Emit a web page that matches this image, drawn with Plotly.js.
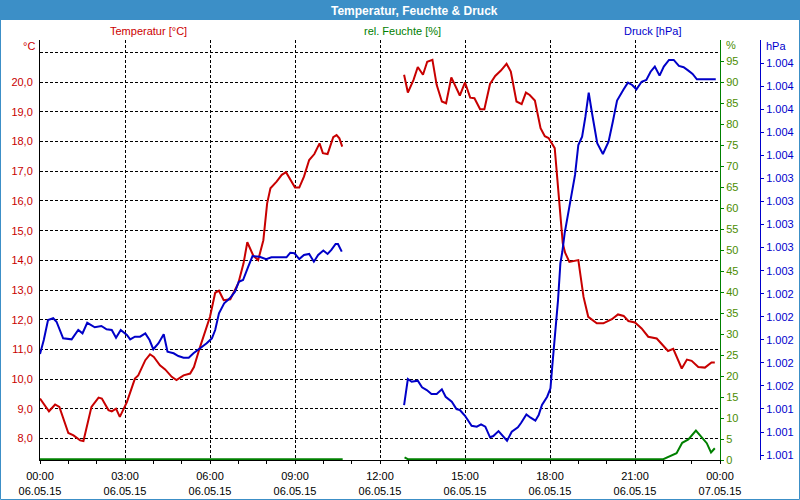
<!DOCTYPE html>
<html>
<head>
<meta charset="utf-8">
<script src="https://cdn.plot.ly/plotly-3.0.1.min.js"></script>
<style>html,body{margin:0;padding:0;background:#fff;}#chart{width:800px;height:500px;}</style>
</head>
<body>
<div id="chart"></div>
<script>
// ---- data ----
const day1 = '2015-05-06 ';
const day2 = '2015-05-07 ';

const tempTimes = ['00:00','00:19','00:32','00:41','01:00','01:11','01:25','01:32','01:49','02:04','02:11','02:25','02:32','02:41','02:49','03:04','03:21','03:28','03:43','03:53','04:01','04:14','04:25','04:39','04:49','05:04','05:18','05:26','05:39','06:00','06:11','06:19','06:29','06:43','07:00','07:11','07:19','07:32','07:42','07:53','08:01','08:08','08:21','08:32','08:41','08:49','09:00','09:09','09:19','09:30','09:41','09:52','09:59','10:09','10:21','10:28','10:34','10:40',
  '11:45',
  '12:51','12:59','13:11','13:20','13:31','13:40','13:51','14:00','14:11','14:20','14:31','14:40','14:49','15:00','15:11','15:20','15:32','15:41','15:53','16:04','16:16','16:28','16:37','16:49','17:00','17:09','17:17','17:28','17:40','17:49','17:57','18:10','18:15','18:21','18:27','18:32','18:41','19:00','19:11','19:21','19:39','19:53','20:11','20:24','20:36','20:46','21:00','21:14','21:28','21:46','21:56','22:10','22:21','22:30','22:39','22:50','23:00','23:14','23:28','23:42','23:49'];
const tempValues = [9.35,8.92,9.15,9.07,8.19,8.11,7.94,7.92,9.07,9.38,9.35,8.96,8.92,9.01,8.73,9.23,10.02,10.13,10.64,10.84,10.75,10.47,10.33,10.08,9.97,10.13,10.19,10.41,11.09,12.10,12.91,12.98,12.66,12.69,13.23,13.90,14.61,14.15,14.01,14.68,15.92,16.43,16.65,16.88,16.97,16.76,16.45,16.45,16.82,17.38,17.58,17.94,17.61,17.58,18.15,18.22,18.11,17.83,
  null,
  20.25,19.65,20.08,20.51,20.25,20.69,20.75,19.91,19.35,19.29,20.16,19.85,19.55,19.99,19.48,19.46,19.09,19.09,19.94,20.21,20.39,20.62,20.36,19.35,19.26,19.65,19.57,19.38,18.45,18.18,18.12,17.78,16.82,15.47,14.58,14.26,13.95,14.01,12.77,12.10,11.88,11.88,12.02,12.18,12.13,11.96,11.91,11.71,11.43,11.37,11.20,10.95,11.02,10.70,10.36,10.66,10.62,10.41,10.39,10.56,10.56];

const humTimes = ['00:00','05:00','10:41','11:45','12:52','12:59','22:00','22:11','22:28','22:40','22:53','23:09','23:17','23:32','23:41','23:49'];
const humValues = [0.2,0.2,0.2,null,0.6,0.2,0.2,0.8,1.6,4.1,4.9,7.0,6.0,4.0,1.8,2.8];

const presTimes = ['00:00','00:08','00:17','00:28','00:35','00:49','01:07','01:21','01:30','01:40','01:56','02:10','02:21','02:32','02:41','02:51','03:04','03:11','03:21','03:32','03:43','03:52','04:00','04:11','04:22','04:30','04:43','04:53','05:04','05:15','05:25','05:39','05:53','06:04','06:11','06:19','06:30','06:42','06:53','07:01','07:10','07:21','07:30','07:45','07:59','08:10','08:42','08:50','08:59','09:09','09:19','09:30','09:40','09:49','10:00','10:09','10:17','10:26','10:31','10:39',
  '11:45',
  '12:51','12:59','13:07','13:20','13:29','13:39','13:49','14:00','14:11','14:19','14:32','14:42','14:49','15:00','15:14','15:25','15:34','15:43','15:53','16:00','16:11','16:29','16:39','16:52','16:59','17:10','17:19','17:29','17:36','17:43','17:54','18:01','18:05','18:10','18:17','18:22','18:26','18:31','18:43','18:53','19:00','19:08','19:15','19:22','19:29','19:40','19:52','20:04','20:13','20:22','20:36','20:45','20:54','21:03','21:14','21:24','21:33','21:42','21:52','22:01','22:12','22:22','22:33','22:43','22:53','23:02','23:11','23:51'];
const presValues = [1001.877,1001.998,1002.172,1002.187,1002.157,1002.013,1002.004,1002.085,1002.056,1002.148,1002.109,1002.120,1002.091,1002.085,1002.018,1002.085,1002.042,1002.004,1002.027,1002.027,1002.056,1001.998,1001.918,1001.970,1002.048,1001.897,1001.883,1001.859,1001.845,1001.845,1001.883,1001.926,1001.970,1002.013,1002.085,1002.230,1002.317,1002.360,1002.418,1002.504,1002.519,1002.635,1002.727,1002.721,1002.699,1002.716,1002.716,1002.756,1002.751,1002.701,1002.736,1002.745,1002.678,1002.736,1002.775,1002.745,1002.780,1002.832,1002.832,1002.765,
  null,
  1001.434,1001.660,1001.636,1001.645,1001.588,1001.564,1001.530,1001.530,1001.570,1001.506,1001.463,1001.399,1001.391,1001.341,1001.254,1001.246,1001.266,1001.246,1001.154,1001.165,1001.208,1001.124,1001.202,1001.240,1001.280,1001.353,1001.324,1001.298,1001.347,1001.434,1001.506,1001.579,1001.781,1001.998,1002.345,1002.664,1002.762,1002.924,1003.185,1003.431,1003.691,1003.763,1003.937,1004.145,1003.966,1003.706,1003.613,1003.720,1003.893,1004.076,1004.174,1004.232,1004.212,1004.174,1004.240,1004.255,1004.327,1004.371,1004.293,1004.371,1004.429,1004.429,1004.377,1004.366,1004.336,1004.307,1004.261,1004.261];

const tempTicks = [8,9,10,11,12,13,14,15,16,17,18,19,20,21];
const tempTickText = ['8,0','9,0','10,0','11,0','12,0','13,0','14,0','15,0','16,0','17,0','18,0','19,0','20,0',''];
const humTicks = [0,5,10,15,20,25,30,35,40,45,50,55,60,65,70,75,80,85,90,95];
const presTicks = [1001.0,1001.2,1001.4,1001.6,1001.8,1002.0,1002.2,1002.4,1002.6,1002.8,1003.0,1003.2,1003.4,1003.6,1003.8,1004.0,1004.2,1004.4];
const presTickText = ['1.001','1.001','1.001','1.002','1.002','1.002','1.002','1.002','1.003','1.003','1.003','1.003','1.003','1.004','1.004','1.004','1.004','1.004'];

const chartTitle = 'Temperatur, Feuchte & Druck';
const tempLabel = 'Temperatur [°C]';
const humLabel = 'rel. Feuchte [%]';
const presLabel = 'Druck [hPa]';

// ---- drawing ----
const ts = arr => arr.map(t => day1 + t);
const RED = '#c80000', BLUE = '#0000c8', GREEN = '#008000';
const FONT = 'Liberation Sans, Arial, sans-serif';

const traces = [
  {x: ts(tempTimes), y: tempValues, type:'scatter', mode:'lines', line:{color:RED, width:2}, connectgaps:false, yaxis:'y', hoverinfo:'skip'},
  {x: ts(humTimes), y: humValues, type:'scatter', mode:'lines', line:{color:GREEN, width:2}, connectgaps:false, yaxis:'y2', hoverinfo:'skip'},
  {x: ts(presTimes), y: presValues, type:'scatter', mode:'lines', line:{color:BLUE, width:2}, connectgaps:false, yaxis:'y3', hoverinfo:'skip'}
];

// pixel helpers for paper coords (plot area 40..720 x 40..460, paper 40..760)
const px = v => (v - 40) / 720;
const py = v => (460 - v) / 420;

const layout = {
  width: 800, height: 500,
  margin: {l:40, r:40, t:40, b:40, pad:0},
  paper_bgcolor:'#ffffff', plot_bgcolor:'#ffffff',
  separators: ',.',
  font: {family: FONT, size: 11, color:'#000'},
  showlegend: false,
  xaxis: {
    type:'date', domain:[0, 680/720],
    range:[day1 + '00:00', day2 + '00:00'],
    tick0: day1 + '00:00', dtick: 3*3600000,
    tickformat: '%H:%M<br>%d.%m.%y',
    ticks:'outside', ticklen:3, tickcolor:'#000', tickwidth:1,
    showline:true, linecolor:'#000', linewidth:1,
    showgrid:true, gridcolor:'#000', gridwidth:1, griddash:'3px,2px',
    zeroline:false, ticklabelstandoff:3,
    minor:{dtick:3600000, ticks:'outside', ticklen:3, tickcolor:'#000', showgrid:false},
    tickfont:{family:FONT, size:11, color:'#000'},
    fixedrange:true
  },
  yaxis: {
    range:[7.28, 21.42],
    tickmode:'array', tickvals: tempTicks, ticktext: tempTickText,
    ticks:'', showline:true, linecolor:'#000', linewidth:1,
    showgrid:true, gridcolor:'#000', gridwidth:1, griddash:'3px,2px',
    zeroline:false, ticklabelstandoff:4,
    tickfont:{family:FONT, size:11, color:RED},
    fixedrange:true
  },
  yaxis2: {
    overlaying:'y', side:'right', anchor:'x',
    range:[0,100], tickmode:'array', tickvals: humTicks,
    ticks:'outside', ticklen:3, tickcolor:GREEN,
    showline:true, linecolor:GREEN, linewidth:1,
    showgrid:false, zeroline:false,
    tickfont:{family:FONT, size:11, color:'#4b8c00'},
    fixedrange:true
  },
  yaxis3: {
    overlaying:'y', side:'right', anchor:'free', position:1,
    range:[1000.957, 1004.602], tickmode:'array', tickvals: presTicks, ticktext: presTickText,
    ticks:'outside', ticklen:3, tickcolor:'#0000cc',
    showline:true, linecolor:'#0000cc', linewidth:1,
    showgrid:false, zeroline:false,
    tickfont:{family:FONT, size:11, color:'#0000cc'},
    fixedrange:true
  },
  shapes: [
    {type:'rect', xref:'paper', yref:'paper', x0:px(0), x1:px(800), y0:py(20), y1:py(0), fillcolor:'#3c8fc7', line:{width:0}, layer:'below'},
    {type:'rect', xref:'paper', yref:'paper', x0:px(0.5), x1:px(799.5), y0:py(499.5), y1:py(0.5), line:{color:'#3c8fc7', width:1}, fillcolor:'rgba(0,0,0,0)'}
  ],
  annotations: [
    {text: chartTitle, xref:'paper', yref:'paper', x:px(414), y:py(10.5), xanchor:'center', yanchor:'middle', showarrow:false, font:{family:FONT, size:12, color:'#ffffff', weight:'bold'}},
    {text: tempLabel, xref:'paper', yref:'paper', x:px(148), y:py(31), xanchor:'center', yanchor:'middle', showarrow:false, font:{family:FONT, size:11, color:'#cc0000'}},
    {text: humLabel, xref:'paper', yref:'paper', x:px(402), y:py(31), xanchor:'center', yanchor:'middle', showarrow:false, font:{family:FONT, size:11, color:GREEN}},
    {text: presLabel, xref:'paper', yref:'paper', x:px(652), y:py(31), xanchor:'center', yanchor:'middle', showarrow:false, font:{family:FONT, size:11, color:'#0000cc'}},
    {text: '°C', xref:'paper', yref:'paper', x:px(37), y:py(46), xanchor:'right', yanchor:'middle', showarrow:false, font:{family:FONT, size:11, color:'#cc0000'}},
    {text: '%', xref:'paper', yref:'paper', x:px(724), y:py(45), xanchor:'left', yanchor:'middle', showarrow:false, font:{family:FONT, size:11, color:'#4b8c00'}},
    {text: 'hPa', xref:'paper', yref:'paper', x:px(764), y:py(46), xanchor:'left', yanchor:'middle', showarrow:false, font:{family:FONT, size:11, color:'#0000cc'}}
  ]
};

Plotly.newPlot('chart', traces, layout, {displayModeBar:false, staticPlot:true});
</script>
</body>
</html>
